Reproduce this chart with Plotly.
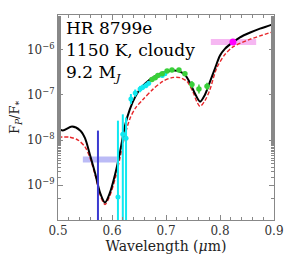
import numpy as np
import plotly.graph_objects as go

# ---- data (log10 of F_p/F_*) ----
model_cloudy_wl = [0.500, 0.509, 0.526, 0.541, 0.550, 0.559, 0.569, 0.578, 0.587, 0.596,
                   0.606, 0.615, 0.624, 0.633, 0.643, 0.652, 0.670, 0.689, 0.707, 0.722,
                   0.735, 0.744, 0.754, 0.763, 0.772, 0.781, 0.791, 0.800, 0.809, 0.824,
                   0.837, 0.856, 0.874, 0.900]
model_cloudy_log = [-7.745, -7.787, -7.702, -7.787, -7.957, -8.319, -8.745, -9.170, -9.383, -9.170,
                    -8.745, -8.255, -7.681, -7.319, -7.043, -6.872, -6.660, -6.532, -6.468, -6.468,
                    -6.553, -6.723, -6.979, -7.149, -7.000, -6.723, -6.404, -6.128, -5.979, -5.830,
                    -5.723, -5.617, -5.532, -5.426]

model_alt_wl = [0.500, 0.522, 0.537, 0.550, 0.559, 0.569, 0.578, 0.587, 0.596, 0.606,
                0.615, 0.624, 0.633, 0.643, 0.657, 0.676, 0.694, 0.711, 0.726, 0.739,
                0.750, 0.757, 0.763, 0.772, 0.781, 0.794, 0.809, 0.824, 0.856, 0.900]
model_alt_log = [-7.936, -7.936, -8.000, -8.149, -8.383, -8.787, -9.213, -9.426, -9.234, -8.851,
                 -8.383, -7.894, -7.532, -7.298, -7.106, -6.872, -6.702, -6.617, -6.617, -6.702,
                 -6.936, -7.149, -7.255, -7.128, -6.894, -6.404, -6.106, -5.936, -5.766, -5.596]

cyan_wl = [0.611, 0.620, 0.626, 0.635, 0.643, 0.652, 0.657, 0.663, 0.668, 0.693, 0.698]
cyan_log = [-9.26, -7.87, -7.96, -7.09, -6.96, -6.87, -6.83, -6.79, -6.74, -6.57, -6.53]
cyan_log_hi = [-7.57, -7.43, -7.50, -6.98, -6.88, -6.80, -6.77, -6.73, -6.69, -6.53, -6.49]
cyan_log_lo = [-11.0, -11.0, -11.0, -7.20, -7.04, -6.94, -6.89, -6.85, -6.79, -6.61, -6.57]

green_wl = [0.674, 0.680, 0.685, 0.693, 0.702, 0.711, 0.724, 0.735, 0.748, 0.761, 0.776]
green_log = [-6.66, -6.62, -6.57, -6.53, -6.47, -6.45, -6.45, -6.53, -6.77, -6.87, -6.81]
green_err_dex = [0.04, 0.04, 0.04, 0.04, 0.04, 0.04, 0.04, 0.05, 0.08, 0.10, 0.08]

blue_wl = [0.574, 0.574]
blue_log = [-7.79, -11.0]
blue_band_wl = [0.546, 0.609]
blue_band_log = [-8.43, -8.43]

magenta_wl = [0.824]
magenta_log = [-5.83]
pink_band_wl = [0.783, 0.867]
pink_band_log = [-5.83, -5.83]

x_ticks = [0.5, 0.6, 0.7, 0.8, 0.9]
x_tick_text = ["0.5", "0.6", "0.7", "0.8", "0.9"]
y_ticks = [1e-9, 1e-8, 1e-7, 1e-6]
y_tick_text = ["10<sup>−9</sup>", "10<sup>−8</sup>", "10<sup>−7</sup>", "10<sup>−6</sup>"]

p = lambda a: np.power(10.0, np.array(a, dtype=float))

FONT = "DejaVu Serif"
fig = go.Figure()

# bands (behind)
fig.add_trace(go.Scatter(x=blue_band_wl, y=p(blue_band_log), mode="lines",
                         line=dict(color="rgba(175,175,245,0.85)", width=6), showlegend=False))
fig.add_trace(go.Scatter(x=pink_band_wl, y=p(pink_band_log), mode="lines",
                         line=dict(color="rgba(245,170,240,0.85)", width=6), showlegend=False))

# models
fig.add_trace(go.Scatter(x=model_alt_wl, y=p(model_alt_log), mode="lines",
                         line=dict(color="#e8262a", width=1.4, dash="4px,2px", shape="spline", smoothing=0.8),
                         showlegend=False))
fig.add_trace(go.Scatter(x=model_cloudy_wl, y=p(model_cloudy_log), mode="lines",
                         line=dict(color="black", width=2, shape="spline", smoothing=0.8),
                         showlegend=False))

# blue point (extends below axis)
fig.add_trace(go.Scatter(x=blue_wl, y=p(blue_log), mode="lines",
                         line=dict(color="#3a3ad0", width=2), showlegend=False))

# cyan
cy = p(cyan_log)
fig.add_trace(go.Scatter(x=cyan_wl, y=cy, mode="markers",
                         marker=dict(color="#10e8f0", size=5),
                         error_y=dict(type="data", symmetric=False,
                                      array=p(cyan_log_hi) - cy, arrayminus=cy - p(cyan_log_lo),
                                      color="#10e8f0", thickness=2, width=0),
                         showlegend=False))

# green
gy = p(green_log)
ge = np.array(green_err_dex)
fig.add_trace(go.Scatter(x=green_wl, y=gy, mode="markers",
                         marker=dict(color="#3ad03a", size=5.5),
                         error_y=dict(type="data", symmetric=False,
                                      array=p(np.array(green_log) + ge) - gy,
                                      arrayminus=gy - p(np.array(green_log) - ge),
                                      color="#3ad03a", thickness=1.5, width=0),
                         showlegend=False))

# magenta
fig.add_trace(go.Scatter(x=magenta_wl, y=p(magenta_log), mode="markers",
                         marker=dict(color="#ff00ff", size=7), showlegend=False))

axis_common = dict(showline=True, linecolor="#888888", linewidth=1, mirror="ticks",
                   ticks="inside", ticklen=5, tickcolor="#888888", showgrid=False, zeroline=False,
                   tickfont=dict(family=FONT, size=12, color="#333333"))

fig.update_xaxes(range=[0.5, 0.9], tickvals=x_ticks, ticktext=x_tick_text,
                 minor=dict(ticks="inside", ticklen=3, tickcolor="#888888", dtick=0.02, showgrid=False),
                 title=dict(text="Wavelength (<i>μ</i>m)", font=dict(family=FONT, size=14, color="#222222"),
                            standoff=2),
                 **axis_common)
fig.update_yaxes(type="log", range=[-9.77, -5.23], tickvals=y_ticks, ticktext=y_tick_text,
                 minor=dict(ticks="inside", ticklen=3, tickcolor="#888888", showgrid=False),
                 title=dict(text="F<sub><i>P</i></sub>/F<sub>*</sub>", font=dict(family=FONT, size=13, color="#222222"),
                            standoff=4),
                 **axis_common)

fig.add_annotation(xref="paper", yref="paper", x=0.03, y=0.995, xanchor="left", yanchor="top",
                   align="left", showarrow=False,
                   text="HR 8799e<br>1150 K, cloudy<br>9.2 M<sub><i>J</i></sub>",
                   font=dict(family=FONT, size=17, color="black"))

fig.update_layout(width=303, height=262, margin=dict(l=58, r=29, t=15, b=34),
                  paper_bgcolor="white", plot_bgcolor="white", showlegend=False)

fig.write_html("out.html", config={"displayModeBar": False},
               post_script="document.body.style.margin='0px';document.body.style.overflow='hidden';")
